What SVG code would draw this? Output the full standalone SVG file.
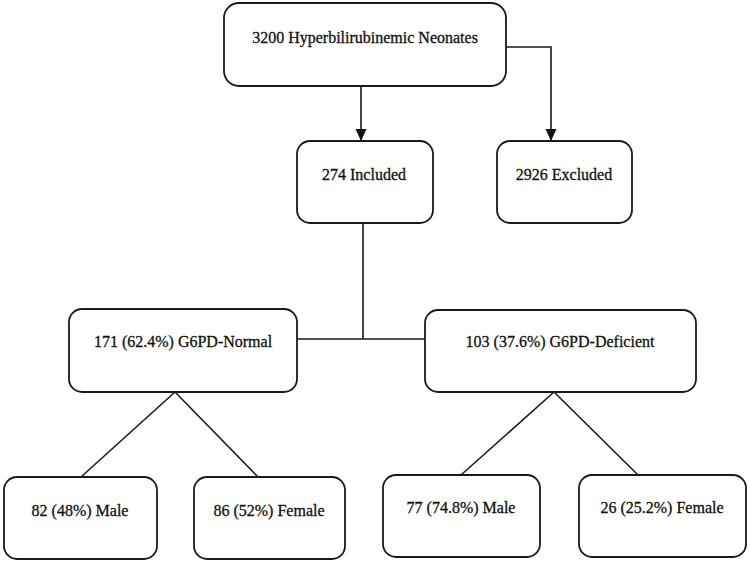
<svg xmlns="http://www.w3.org/2000/svg" width="750" height="563" viewBox="0 0 750 563">
<style>
.box{fill:#fff;stroke:#1a1a1a;stroke-width:1.8}
.lbl{font-family:"Liberation Serif","Times New Roman",serif;font-size:16px;fill:#111;stroke:#111;stroke-width:0.3;text-anchor:middle}
.ln{fill:none;stroke:#1a1a1a;stroke-width:1.6}
</style>
<defs>
<marker id="arr" markerUnits="userSpaceOnUse" markerWidth="12" markerHeight="12" viewBox="0 0 12 12" refX="12" refY="6" orient="auto">
<path d="M0,0.5 L12,6 L0,11.5 Z" fill="#111"/>
</marker>
</defs>
<rect width="750" height="563" fill="#fff"/>
<g id="connectors">
<path class="ln" d="M361 86 V141" marker-end="url(#arr)"/>
<path class="ln" d="M506 47 H551 V141" marker-end="url(#arr)"/>
<path class="ln" d="M363 223 V339"/>
<path class="ln" d="M297 339 H425"/>
<path class="ln" d="M175 392 L81 477"/>
<path class="ln" d="M175 392 L258 477"/>
<path class="ln" d="M554 392 L461 475"/>
<path class="ln" d="M554 392 L638 475"/>
</g>
<g id="n-total"><rect class="box" x="224" y="3" width="282" height="83" rx="15"/><text class="lbl" x="365" y="43">3200 Hyperbilirubinemic Neonates</text></g>
<g id="n-included"><rect class="box" x="297" y="141" width="136" height="82" rx="13"/><text class="lbl" x="364" y="180">274 Included</text></g>
<g id="n-excluded"><rect class="box" x="497" y="141" width="135" height="82" rx="13"/><text class="lbl" x="564" y="180">2926 Excluded</text></g>
<g id="n-normal"><rect class="box" x="69" y="309" width="228" height="83" rx="13"/><text class="lbl" x="183" y="347">171 (62.4%) G6PD-Normal</text></g>
<g id="n-deficient"><rect class="box" x="425" y="310" width="271" height="82" rx="13"/><text class="lbl" x="560" y="347">103 (37.6%) G6PD-Deficient</text></g>
<g id="n-male1"><rect class="box" x="4" y="477" width="153" height="82" rx="13"/><text class="lbl" x="80" y="516">82 (48%) Male</text></g>
<g id="n-female1"><rect class="box" x="194" y="477" width="151" height="82" rx="13"/><text class="lbl" x="269" y="516">86 (52%) Female</text></g>
<g id="n-male2"><rect class="box" x="383" y="475" width="157" height="82" rx="13"/><text class="lbl" x="461" y="513">77 (74.8%) Male</text></g>
<g id="n-female2"><rect class="box" x="579" y="475" width="167" height="82" rx="13"/><text class="lbl" x="662" y="513">26 (25.2%) Female</text></g>
</svg>
